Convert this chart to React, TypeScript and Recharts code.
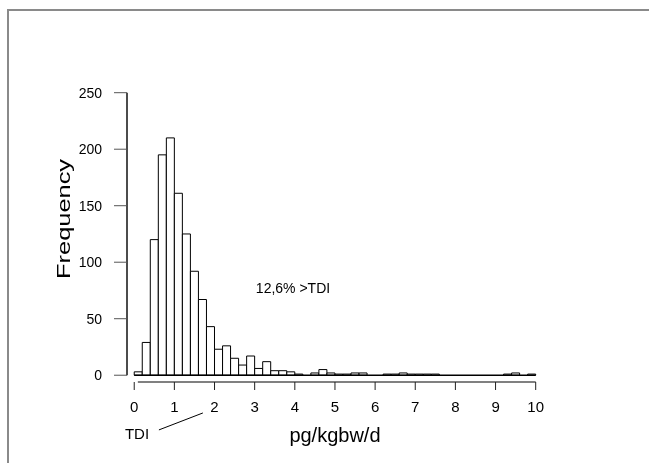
import { Bar, BarChart, ReferenceDot, ReferenceLine, XAxis, YAxis } from 'recharts';

// histogram bins of width 0.2, by their centre
const binMids = [
  0.1, 0.3, 0.5, 0.7, 0.9, 1.1, 1.3, 1.5, 1.7, 1.9,
  2.1, 2.3, 2.5, 2.7, 2.9, 3.1, 3.3, 3.5, 3.7, 3.9,
  4.1, 4.3, 4.5, 4.7, 4.9, 5.1, 5.3, 5.5, 5.7, 5.9,
  6.1, 6.3, 6.5, 6.7, 6.9, 7.1, 7.3, 7.5, 7.7, 7.9,
  8.1, 8.3, 8.5, 8.7, 8.9, 9.1, 9.3, 9.5, 9.7, 9.9,
];

const counts = [
  3, 29, 120, 195, 210, 161, 125, 92, 67, 43,
  23, 26, 15, 9, 17, 6, 12, 4, 4, 3,
  1, 0, 2, 5, 2, 1, 1, 2, 2, 0,
  0, 1, 1, 2, 1, 1, 1, 1, 0, 0,
  0, 0, 0, 0, 0, 0, 1, 2, 0, 1,
];

const xTicks = [0, 1, 2, 3, 4, 5, 6, 7, 8, 9, 10];
const yTicks = [0, 50, 100, 150, 200, 250];

const xLabel = 'pg/kgbw/d';
const yLabel = 'Frequency';
const shareNote = '12,6% >TDI';
const tdiLabel = 'TDI';

const FONT = '"Liberation Sans", Arial, Helvetica, sans-serif';

const chartData = binMids.map((mid, i) => ({ mid, count: counts[i] }));

// the y axis line sits a little left of x = 0, the x axis a little below y = 0
const AXIS_X = -0.18;
const AXIS_Y = -6;

function textAt(label: string, size: number, anchor: 'start' | 'middle' | 'end', rotate = false, length?: number) {
  return (p: any) => (
    <text
      x={p.cx}
      y={p.cy}
      textAnchor={anchor}
      fontFamily={FONT}
      fontSize={size}
      fill="#000"
      transform={rotate ? `rotate(-90 ${p.cx} ${p.cy})` : undefined}
      textLength={length}
      lengthAdjust={length ? 'spacingAndGlyphs' : undefined}
    >
      {label}
    </text>
  );
}

export default function App() {
  return (
    <>
      <div
        style={{
          position: 'fixed',
          left: 7,
          top: 9,
          right: -10,
          bottom: -10,
          borderLeft: '2px solid #8a8a8a',
          borderTop: '2px solid #8a8a8a',
        }}
      />
      <div style={{ position: 'absolute', left: 0, top: 0, width: 649, height: 463 }}>
        <BarChart
          width={649}
          height={463}
          data={chartData}
          margin={{ top: 92.7, right: 113.3, left: 67, bottom: 51 }}
          barCategoryGap={0}
          barGap={0}
        >
          <XAxis
            dataKey="mid"
            type="number"
            domain={[AXIS_X, 10]}
            ticks={xTicks}
            height={30}
            axisLine={false}
            tickLine={{ stroke: '#222', strokeWidth: 1 }}
            tickSize={8}
            tickMargin={11}
            tick={{ fontSize: 15, fill: '#000', fontFamily: FONT }}
          />
          <YAxis
            type="number"
            domain={[AXIS_Y, 250]}
            ticks={yTicks}
            width={60}
            axisLine={false}
            tickLine={{ stroke: '#555', strokeWidth: 1 }}
            tickSize={13}
            tickMargin={12}
            tick={{ fontSize: 14, fill: '#000', fontFamily: FONT }}
          />
          <Bar dataKey="count" fill="#fff" stroke="#000" strokeWidth={1} isAnimationActive={false} />
          {/* bottom edges of the bars, zero bins included */}
          <ReferenceLine
            segment={[{ x: 0, y: 0 }, { x: 10, y: 0 }]}
            stroke="#000"
            strokeWidth={1.5}
            ifOverflow="visible"
          />
          <ReferenceLine
            segment={[{ x: AXIS_X, y: 0 }, { x: AXIS_X, y: 250 }]}
            stroke="#111"
            strokeWidth={1.5}
            ifOverflow="visible"
          />
          <ReferenceLine
            segment={[{ x: 0.09, y: AXIS_Y }, { x: 10, y: AXIS_Y }]}
            stroke="#808080"
            strokeWidth={2}
            ifOverflow="visible"
          />
          <ReferenceLine
            segment={[{ x: 0.615, y: -48.4 }, { x: 1.71, y: -33.4 }]}
            stroke="#000"
            strokeWidth={1}
            ifOverflow="visible"
          />
          <ReferenceDot x={3.03} y={73} ifOverflow="visible" shape={textAt(shareNote, 14, 'start')} />
          <ReferenceDot x={0.07} y={-56} ifOverflow="visible" shape={textAt(tdiLabel, 15, 'middle')} />
          <ReferenceDot x={5} y={-59.5} ifOverflow="visible" shape={textAt(xLabel, 20, 'middle')} />
          <ReferenceDot x={-1.61} y={138.3} ifOverflow="visible" shape={textAt(yLabel, 19, 'middle', true, 120)} />
        </BarChart>
      </div>
    </>
  );
}
